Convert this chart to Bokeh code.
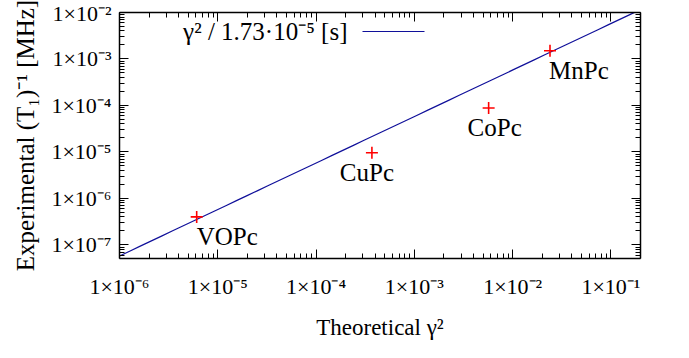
import numpy as np
from bokeh.plotting import figure
from bokeh.models import (LogAxis, FixedTicker, Label, Arrow, ColumnDataSource,
                          Range1d, CustomJSTickFormatter)
from bokeh.embed import file_html
from bokeh.resources import INLINE
from bokeh.core.properties import value

# ---- data ----
compounds = ["VOPc", "CuPc", "CoPc", "MnPc"]
theoretical_gamma2 = [6.1e-6, 3.7e-4, 5.7e-3, 2.4e-2]
experimental_rate = [4.0e-7, 9.6e-6, 8.8e-5, 1.5e-3]   # (T1)^-1 in MHz
fit_tau = 1.73e-5                                        # s
x_ticks = [1e-6, 1e-5, 1e-4, 1e-3, 1e-2, 1e-1]
x_tick_labels = ["1×10⁻⁶", "1×10⁻⁵", "1×10⁻⁴", "1×10⁻³", "1×10⁻²", "1×10⁻¹"]
y_ticks = [1e-7, 1e-6, 1e-5, 1e-4, 1e-3, 1e-2]
y_tick_labels = ["1×10⁻⁷", "1×10⁻⁶", "1×10⁻⁵", "1×10⁻⁴", "1×10⁻³", "1×10⁻²"]
x_range = (1e-6, 0.2)
y_range = (5.1e-8, 1e-2)

# ---- styling ----
FONT = "Liberation Serif"
label_align = ["left", "center", "center", "left"]
label_dx = [0, -5, 6, -1]

W, H = 673, 342
p = figure(width=W, height=H, x_axis_type="log", y_axis_type="log",
           x_range=Range1d(*x_range), y_range=Range1d(*y_range),
           output_backend="svg", toolbar_location=None,
           min_border_left=119, min_border_right=33,
           min_border_top=12, min_border_bottom=80)
p.background_fill_color = "white"
p.border_fill_color = "white"
p.outline_line_color = None
p.xgrid.visible = False
p.ygrid.visible = False

def minors(lo_exp, hi_exp, vmin, vmax):
    out = []
    for e in range(lo_exp, hi_exp + 1):
        for m in range(2, 10):
            v = m * 10.0 ** e
            if vmin <= v <= vmax:
                out.append(v)
    return out

def lookup_formatter(tvals, tlabels):
    return CustomJSTickFormatter(args=dict(tvals=tvals, tlabels=tlabels), code="""
        let best = 0, bd = Infinity;
        for (let i = 0; i < tvals.length; i++) {
            const d = Math.abs(Math.log10(tick) - Math.log10(tvals[i]));
            if (d < bd) { bd = d; best = i; }
        }
        return tlabels[best];
    """)

def style_axis(ax, show_labels):
    ax.axis_line_color = "black"
    ax.axis_line_width = 1.5
    ax.major_tick_in = 9
    ax.major_tick_out = 0
    ax.minor_tick_in = 5
    ax.minor_tick_out = 0
    ax.major_tick_line_color = "black"
    ax.minor_tick_line_color = "black"
    ax.major_tick_line_width = 1
    ax.minor_tick_line_width = 1
    ax.major_label_text_font = FONT
    ax.major_label_text_color = "black"
    ax.axis_label_text_color = "black"
    ax.axis_label_text_font = FONT
    ax.axis_label_text_font_style = "normal"
    if show_labels:
        ax.major_label_text_font_size = "22px"
    else:
        ax.major_label_text_font_size = "8px"
        ax.major_label_text_alpha = 0
        ax.major_label_standoff = 0

xa = p.xaxis[0]
xa.ticker = FixedTicker(ticks=x_ticks, minor_ticks=minors(-6, -1, *x_range))
style_axis(xa, True)
xa.formatter = lookup_formatter(x_ticks, x_tick_labels)
xa.major_label_standoff = 15
xa.axis_label = "Theoretical γ²"
xa.axis_label_text_font_size = "23px"
xa.axis_label_standoff = 13

ya = p.yaxis[0]
ya.ticker = FixedTicker(ticks=y_ticks, minor_ticks=minors(-8, -3, *y_range))
style_axis(ya, True)
ya.formatter = lookup_formatter(y_ticks, y_tick_labels)
ya.major_label_standoff = 8
ya.axis_label = "Experimental (T₁)⁻¹ [MHz]"
ya.axis_label_text_font_size = "25px"
ya.axis_label_standoff = 9

top = LogAxis(ticker=FixedTicker(ticks=x_ticks, minor_ticks=minors(-6, -1, *x_range)))
style_axis(top, False)
p.add_layout(top, "above")
right = LogAxis(ticker=FixedTicker(ticks=y_ticks, minor_ticks=minors(-8, -3, *y_range)))
style_axis(right, False)
p.add_layout(right, "right")

# fit line
xs = np.logspace(np.log10(x_range[0]), np.log10(x_range[1]), 50)
ys = xs / fit_tau * 1e-6
p.line(xs, ys, line_color="#10109a", line_width=1.2)

# points
src = ColumnDataSource(dict(x=theoretical_gamma2, y=experimental_rate,
                            name=compounds, align=label_align, dx=label_dx))
p.scatter("x", "y", source=src, marker="cross", size=12, line_width=1.6,
          line_color="#ff0000")
p.text("x", "y", text="name", source=src, text_font=value(FONT),
       text_font_size="25px", text_color="black", text_align="align",
       text_baseline="top", x_offset="dx", y_offset=6)

# key (text then sample line)
frame_h = H - 12 - 80
key_y = frame_h - 23
p.add_layout(Label(x=228, y=key_y, x_units="screen", y_units="screen",
                   text="γ² / 1.73·10⁻⁵ [s]", text_font=FONT,
                   text_font_size="25px", text_color="black",
                   text_baseline="middle", text_align="right"))
p.add_layout(Arrow(end=None, x_start=243, y_start=key_y,
                   x_end=305, y_end=key_y,
                   start_units="screen", end_units="screen",
                   line_color="#10109a", line_width=1.2))

open("out.html", "w").write(file_html(p, INLINE))
